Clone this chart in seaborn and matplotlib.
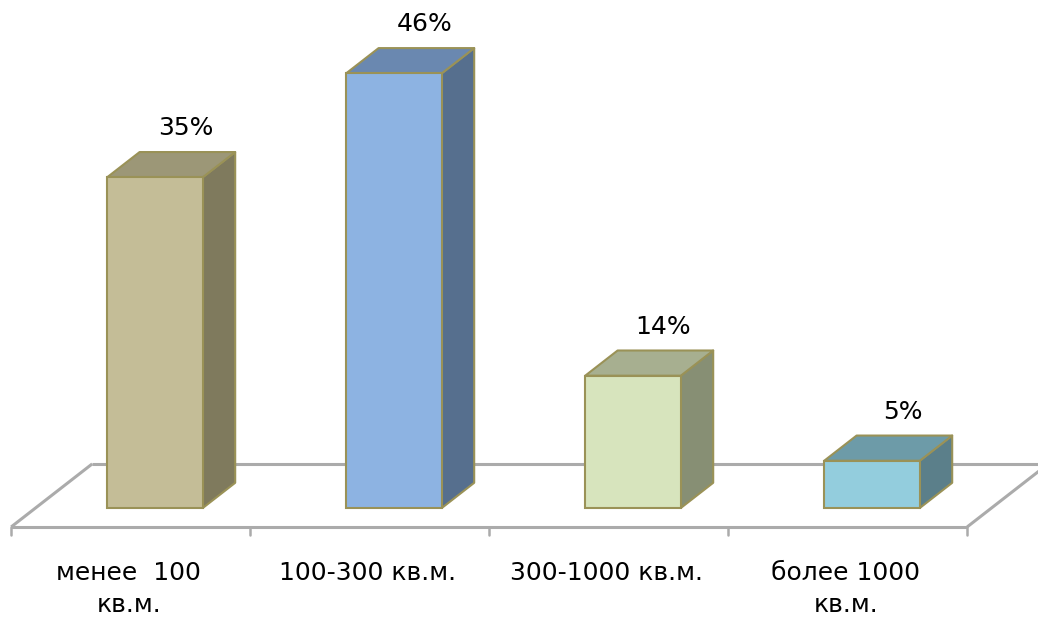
import numpy as np
import pandas as pd
import matplotlib
matplotlib.use("Agg")
import matplotlib.pyplot as plt
import seaborn as sns
from matplotlib.patches import Polygon

# ---- data ----
categories = ["менее  100\nкв.м.", "100-300 кв.м.", "300-1000 кв.м.", "более 1000\nкв.м."]
values = [35, 46, 14, 5]
value_labels = ["35%", "46%", "14%", "5%"]
front_colors = ["#C4BD97", "#8DB3E2", "#D7E4BD", "#93CDDD"]
side_colors = ["#7F7A5D", "#566F8E", "#878F74", "#5B7F8A"]
top_colors = ["#9C9777", "#6A88B0", "#A7AF90", "#6D9BA8"]
edge_color = "#9A9257"
floor_color = "#ABABAB"

# ---- layout (pixels) ----
W, H = 1038, 620
PX_X = 239.0      # px per category
PX_Y = 9.45       # px per percent
X0_PX = 155.0     # px position of first bar centre
Y0_PX = 508.0     # px (from top) of bar base
DX = 81.0 / PX_X  # floor depth vector in data units
DY = 63.0 / PX_Y
BAR_FRONT = 0.3   # bar front depth fraction
BAR_DEPTH = 0.4   # bar depth fraction
FS = 18

sns.set_style("white")
plt.rcParams["font.family"] = ["DejaVu Sans"]

fig = plt.figure(figsize=(W / 100, H / 100), dpi=100)
ax = fig.add_axes([0, 0, 1, 1])

df = pd.DataFrame({"cat": categories, "val": values})
sns.barplot(data=df, x="cat", y="val", hue="cat", palette=front_colors,
            width=0.4, legend=False, ax=ax, saturation=1,
            edgecolor=edge_color, linewidth=1.5, zorder=3)

ax.set_xlim(-X0_PX / PX_X, (W - X0_PX) / PX_X)
ax.set_ylim(-(H - Y0_PX) / PX_Y, Y0_PX / PX_Y)
ax.axis("off")

# ---- floor ----
def pt(c, d, v):
    return (c + (d - BAR_FRONT) * DX, v + (d - BAR_FRONT) * DY)

n = len(categories)
fl, fr = pt(-0.5, 0, 0), pt(n - 0.5, 0, 0)
bl, br = pt(-0.5, 1, 0), pt(n - 0.5, 1, 0)
for a, b in [(fl, fr), (bl, br), (fl, bl), (fr, br)]:
    ax.plot([a[0], b[0]], [a[1], b[1]], color=floor_color, lw=2.2,
            solid_capstyle="butt", zorder=1, clip_on=False)
for k in range(n + 1):
    tx, ty = pt(k - 0.5, 0, 0)
    ax.plot([tx, tx], [ty, ty - 8 / PX_Y], color=floor_color, lw=1.8, zorder=1)

# ---- 3D faces ----
bx, by = BAR_DEPTH * DX, BAR_DEPTH * DY
bars = sorted(ax.patches, key=lambda p: p.get_x())
for i, p in enumerate(bars):
    x0, w, h = p.get_x(), p.get_width(), p.get_height()
    side = Polygon([(x0 + w, 0), (x0 + w + bx, by), (x0 + w + bx, h + by), (x0 + w, h)],
                   closed=True, facecolor=side_colors[i], edgecolor=edge_color,
                   lw=1.5, zorder=2.9, joinstyle="round")
    top = Polygon([(x0, h), (x0 + w, h), (x0 + w + bx, h + by), (x0 + bx, h + by)],
                  closed=True, facecolor=top_colors[i], edgecolor=edge_color,
                  lw=1.5, zorder=2.9, joinstyle="round")
    ax.add_patch(side)
    ax.add_patch(top)
    ax.text(x0 + w / 2 + bx - 2 / PX_X, h + by + 12 / PX_Y, value_labels[i],
            ha="center", va="bottom", fontsize=FS, color="black", zorder=5)

# ---- category labels ----
for i, cat in enumerate(categories):
    lx, ly = pt(i, 0, 0)
    ax.text(lx - 2 / PX_X, ly - 34 / PX_Y, cat, ha="center", va="top", fontsize=FS,
            linespacing=1.45, color="black")

fig.savefig("out.png", dpi=100, facecolor="white")
